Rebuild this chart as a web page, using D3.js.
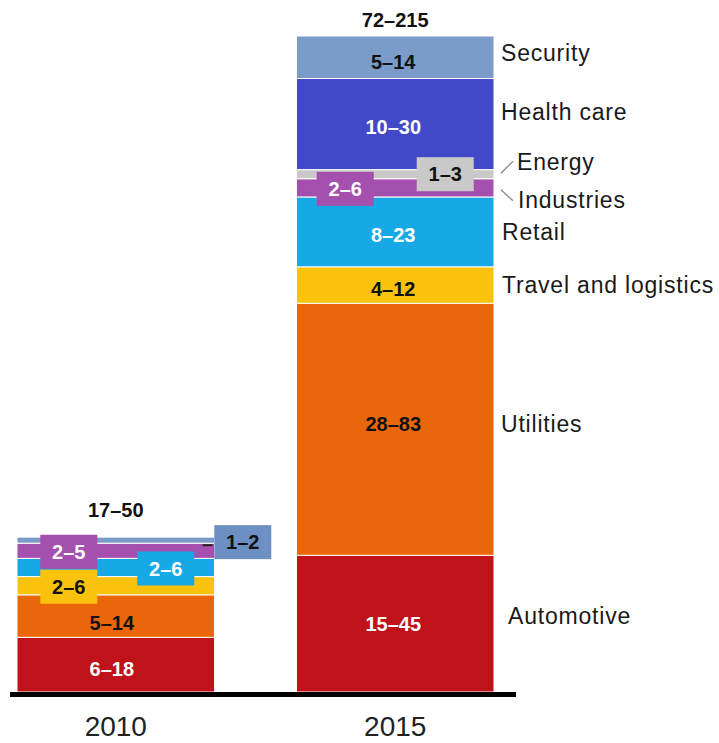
<!DOCTYPE html>
<html><head><meta charset="utf-8">
<script src="https://cdn.jsdelivr.net/npm/d3@7"></script>
<style>body{margin:0;background:#fff}svg{display:block}</style>
</head><body>
<script>
const years = ["2010", "2015"];
const categories = ["Automotive","Utilities","Travel and logistics","Retail","Industries","Energy","Health care","Security"];
const low2010 = [6, 5, 2, 2, 2, 0, 0, 1];
const high2010 = [18, 14, 6, 6, 5, 0, 0, 2];
const low2015 = [15, 28, 4, 8, 2, 1, 10, 5];
const high2015 = [45, 83, 12, 23, 6, 3, 30, 14];
const totals = ["17–50", "72–215"];
const colors = ["#c0121b","#e9660b","#f9c20c","#17a9e6","#a54fae","#c9c9c9","#4149c9","#7b9bc9"];
const textColors = ["#fff","#111","#111","#fff","#fff","#111","#fff","#111"];

const W = 719, H = 743;
const svg = d3.select("body").append("svg").attr("width", W).attr("height", H);

const x = d3.scaleBand().domain(years).range([17, 494]).paddingInner(0.293).paddingOuter(0);
const y = d3.scaleLinear().domain([0, 216]).range([692, 36]);

const lows = [low2010, low2015], highs = [high2010, high2015];
const stackData = years.map((yr, i) => {
  const o = {year: yr};
  categories.forEach((c, j) => o[c] = highs[i][j]);
  return o;
});
const series = d3.stack().keys(categories)(stackData);

const g = svg.append("g");
series.forEach((s, j) => {
  g.selectAll(null).data(s.filter(d => d[1] > d[0])).enter().append("rect")
    .attr("x", d => x(d.data.year))
    .attr("y", d => y(d[1]))
    .attr("width", x.bandwidth())
    .attr("height", d => y(d[0]) - y(d[1]))
    .attr("fill", colors[j])
    .attr("stroke", "#fff").attr("stroke-width", 1);
});

// label layout: [yearIndex, catIndex, dx from band center, dy from segment mid, boxed]
const labelLayout = [
  [0, 0, -4, 4, false], [0, 1, -4, 7, false], [0, 2, -47, 1, true], [0, 3, 50, 1, true],
  [0, 4, -47, 1, true], [0, 7, 127, 2, true],
  [1, 0, -2, 0, false], [1, 1, -2, -5, false], [1, 2, -2, 4, false], [1, 3, -2, 3, false],
  [1, 4, -50, 1, true], [1, 5, 50, 0, true], [1, 6, -2, 3, false], [1, 7, -2, 5, false]
];
const bw = 57, bh = 34;
const lab = svg.append("g").attr("font-family", "Liberation Sans, Arial, sans-serif")
  .attr("font-weight", "bold").attr("font-size", 20);

// leader tick for 2010 security
const s10 = series[7][0];
svg.append("line").attr("x1", x("2010") + x.bandwidth() - 12).attr("x2", x("2010") + x.bandwidth() - 2)
  .attr("y1", y(s10[0]) + 2).attr("y2", y(s10[0]) + 2).attr("stroke", "#222").attr("stroke-width", 2);

labelLayout.forEach(([i, j, dx, dy, boxed]) => {
  const seg = series[j][i];
  const cx = x(years[i]) + x.bandwidth() / 2 + dx;
  const cy = (y(seg[0]) + y(seg[1])) / 2 + dy;
  if (boxed) {
    lab.append("rect").attr("x", cx - bw / 2).attr("y", cy - bh / 2).attr("width", bw).attr("height", bh)
      .attr("fill", j === 7 ? "#6e8fc2" : colors[j]);
  }
  lab.append("text").attr("x", cx).attr("y", cy).attr("dy", "0.36em").attr("text-anchor", "middle")
    .attr("fill", textColors[j]).text(lows[i][j] + "–" + highs[i][j]);
});

// totals
const totalOffsets = [-20, -9];
years.forEach((yr, i) => {
  const top = d3.sum(highs[i]);
  lab.append("text").attr("x", x(yr) + x.bandwidth() / 2).attr("y", y(top) + totalOffsets[i])
    .attr("text-anchor", "middle").attr("fill", "#111").text(totals[i]);
});

// baseline
svg.append("line").attr("x1", 10).attr("x2", 516).attr("y1", 694.5).attr("y2", 694.5)
  .attr("stroke", "#000").attr("stroke-width", 5);

// year axis labels
const xAxis = d3.axisBottom(x).tickSize(0).tickPadding(0);
const ax = svg.append("g").attr("transform", "translate(0,716)").call(xAxis);
ax.select(".domain").remove();
ax.selectAll("text").attr("font-family", "Liberation Sans, Arial, sans-serif").attr("font-size", 28)
  .attr("fill", "#222").attr("dy", "0.71em");

// right category labels (2015)
const rightLayout = {"Automotive": [14, -8], "Utilities": [7, -5], "Travel and logistics": [8, 0], "Retail": [8, 0],
  "Industries": [24, 12], "Energy": [23, -12], "Health care": [7, -12], "Security": [7, -4]};
const x2 = x("2015") + x.bandwidth();
const rl = svg.append("g").attr("font-family", "Liberation Sans, Arial, sans-serif").attr("font-size", 23)
  .attr("letter-spacing", 0.8).attr("fill", "#1a1a1a");
categories.forEach((c, j) => {
  const seg = series[j][1];
  const cy = (y(seg[0]) + y(seg[1])) / 2;
  const [dx, dy] = rightLayout[c];
  rl.append("text").attr("x", x2 + dx).attr("y", cy + dy).attr("dy", "0.35em").text(c);
});
// leader lines
const eSeg = series[5][1], iSeg = series[4][1];
const eMid = (y(eSeg[0]) + y(eSeg[1])) / 2, iMid = (y(iSeg[0]) + y(iSeg[1])) / 2;
svg.append("line").attr("x1", x2 + 7).attr("y1", eMid - 1).attr("x2", x2 + 19).attr("y2", eMid - 13)
  .attr("stroke", "#888").attr("stroke-width", 1.3);
svg.append("line").attr("x1", x2 + 7).attr("y1", iMid + 2).attr("x2", x2 + 19).attr("y2", iMid + 13)
  .attr("stroke", "#888").attr("stroke-width", 1.3);
</script>
</body></html>
